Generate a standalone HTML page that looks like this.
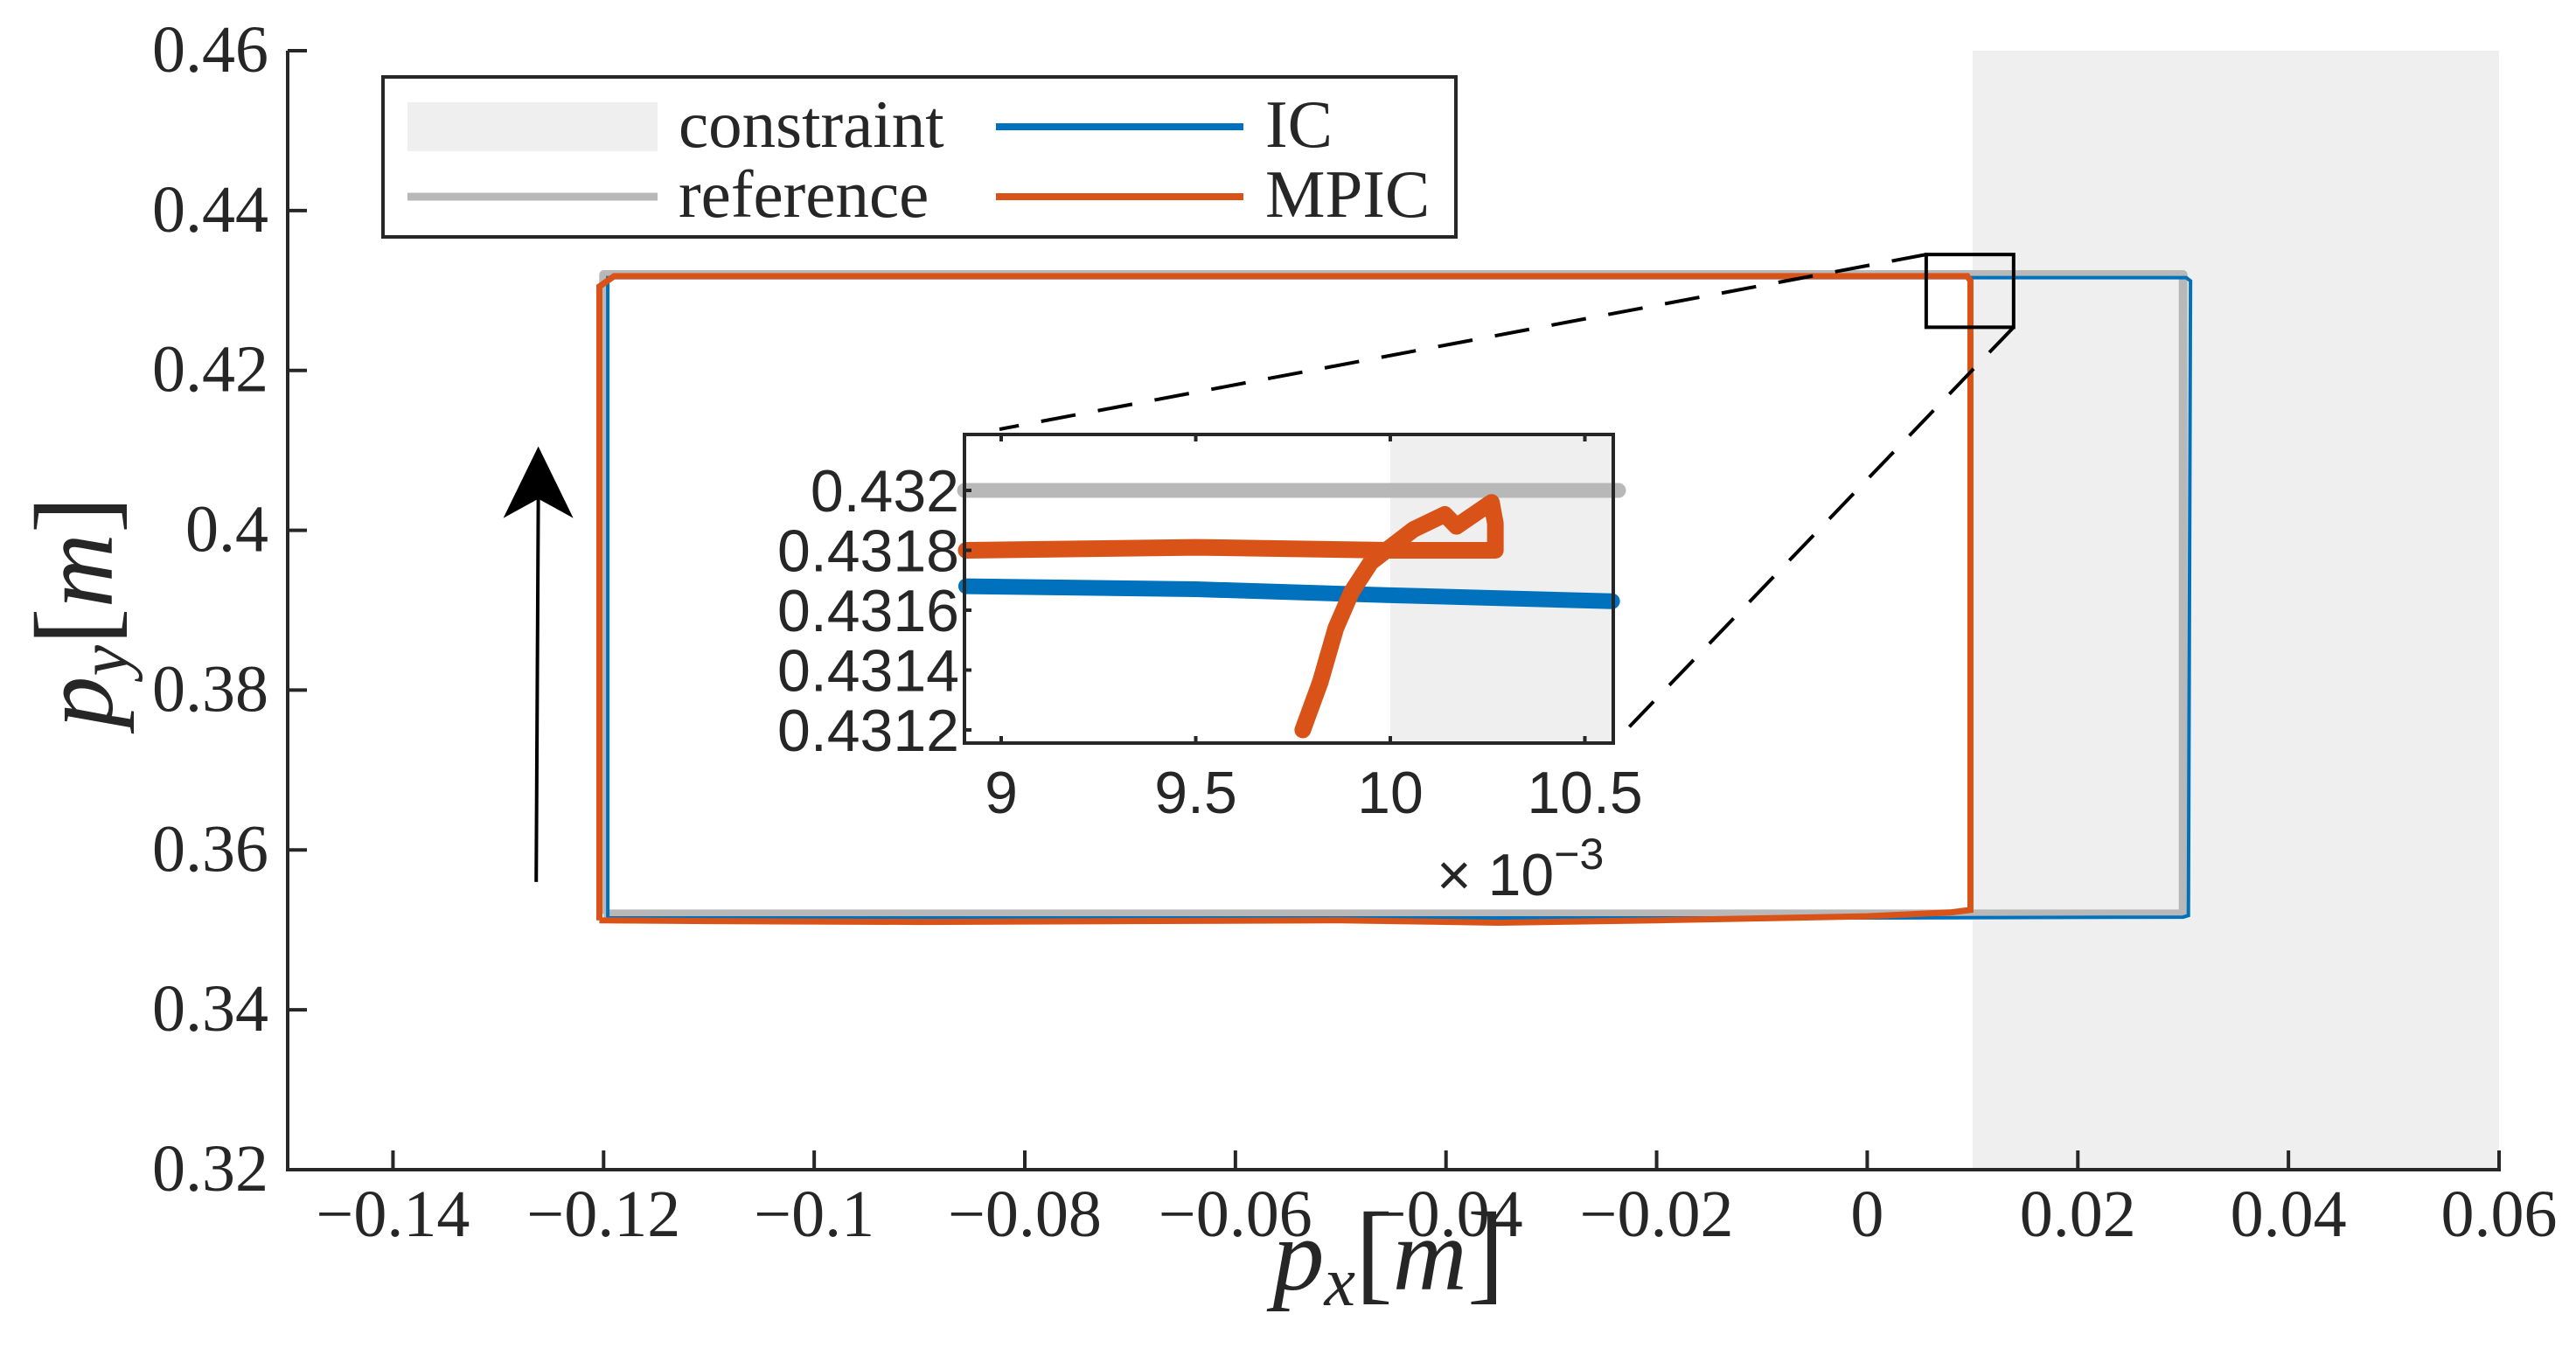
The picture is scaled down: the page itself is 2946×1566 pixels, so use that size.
<!DOCTYPE html>
<html><head><meta charset="utf-8"><style>
html,body{margin:0;padding:0;background:#fff}
svg{display:block}
text{font-family:"Liberation Serif",serif;fill:#262626}
.sans{font-family:"Liberation Sans",sans-serif}
</style></head><body>
<svg id="chart" width="2946" height="1566" viewBox="0 0 2946 1566" xmlns="http://www.w3.org/2000/svg">
<g id="main"></g>
<g id="inset"></g>
<g id="legend">
 <rect x="438" y="88" width="1227" height="183" fill="#fff" stroke="#262626" stroke-width="4"/>
 <rect x="466" y="117" width="286" height="56" fill="#efefef"/>
 <text x="776" y="168" font-size="77">constraint</text>
 <line x1="466" y1="225" x2="752" y2="225" stroke="#b8b8b8" stroke-width="9"/>
 <text x="776" y="248" font-size="77">reference</text>
 <line x1="1139" y1="145" x2="1422" y2="145" stroke="#0072bd" stroke-width="8"/>
 <text x="1447" y="168" font-size="77">IC</text>
 <line x1="1139" y1="225" x2="1422" y2="225" stroke="#d95319" stroke-width="8"/>
 <text x="1447" y="248" font-size="77">MPIC</text>
</g>
</svg>
<script>
// ---------- main plot data ----------
const xTicks = [-0.14,-0.12,-0.1,-0.08,-0.06,-0.04,-0.02,0,0.02,0.04,0.06];
const xTickLabels = ["\u22120.14","\u22120.12","\u22120.1","\u22120.08","\u22120.06","\u22120.04","\u22120.02","0","0.02","0.04","0.06"];
const yTicks = [0.32,0.34,0.36,0.38,0.4,0.42,0.44,0.46];
const yTickLabels = ["0.32","0.34","0.36","0.38","0.4","0.42","0.44","0.46"];
const constraintX = [0.01, 0.06];
const refX = [-0.12, -0.12, 0.03, 0.03, -0.12];
const refY = [0.352, 0.432, 0.432, 0.352, 0.352];
const icX = [-0.1196,-0.1196,-0.08,-0.04,0,0.02,0.0303,0.0307,0.0305,0.03,0.0,-0.04,-0.08,-0.1196];
const icY = [0.3515,0.4316,0.4316,0.4316,0.4316,0.4316,0.4316,0.4312,0.3518,0.3516,0.3515,0.3515,0.3515,0.3515];
const mpX = [-0.1204,-0.1204,-0.119,-0.08,-0.04,0,0.0095,0.0098,0.0098,0.008,0.0,-0.02,-0.035,-0.05,-0.07,-0.09,-0.11,-0.1204];
const mpY = [0.3512,0.4305,0.4318,0.4318,0.4318,0.4318,0.4318,0.4312,0.3525,0.3522,0.3517,0.3512,0.3509,0.3512,0.3511,0.3510,0.3511,0.3512];
const zoomBoxX = [0.0056, 0.0139];
const zoomBoxY = [0.4254, 0.4345];
const arrowX = [-0.1264, -0.1262];
const arrowY = [0.356, 0.4105];

// ---------- inset data ----------
const inXTicks = [9, 9.5, 10, 10.5];
const inXTickLabels = ["9","9.5","10","10.5"];
const inYTicks = [0.4312,0.4314,0.4316,0.4318,0.432];
const inYTickLabels = ["0.4312","0.4314","0.4316","0.4318","0.432"];
const inRefX = [8.9, 10.6];
const inRefY = [0.432, 0.432];
const inIcX = [8.91, 9.5, 10.0, 10.57];
const inIcY = [0.43168, 0.43167, 0.43165, 0.43163];
const inMpX = [8.91, 9.5, 10.0, 10.27, 10.27, 10.26, 10.17, 10.14, 10.06, 9.95, 9.90, 9.86, 9.82, 9.775];
const inMpY = [0.43180, 0.43181, 0.43180, 0.43180, 0.43189, 0.43196, 0.43188, 0.43192, 0.43187, 0.43176, 0.43166, 0.43154, 0.43136, 0.43120];

const NS = "http://www.w3.org/2000/svg";
function mk(parent, tag, attrs, txt){
  const el = document.createElementNS(NS, tag);
  for (const k in attrs) el.setAttribute(k, attrs[k]);
  if (txt !== undefined) el.textContent = txt;
  parent.appendChild(el);
  return el;
}
const L=329, R=2858, T=58, B=1338;
const xs = v => L + (v + 0.15) / 0.21 * (R - L);
const ys = v => B - (v - 0.32) / 0.14 * (B - T);
const main = document.getElementById('main');

let e = mk(main,'rect',{x:xs(constraintX[0]),y:T,width:xs(constraintX[1])-xs(constraintX[0]),height:B-T,fill:'#efefef'});



e = mk(main,'polyline',{points:refX.map((x,i)=>xs(x)+','+ys(refY[i])).join(' '),fill:'none',stroke:'#b8b8b8','stroke-width':10,'stroke-linejoin':'round'});


e = mk(main,'polyline',{points:icX.map((x,i)=>xs(x)+','+ys(icY[i])).join(' '),fill:'none',stroke:'#0072bd','stroke-width':4});


e = mk(main,'polyline',{points:mpX.map((x,i)=>xs(x)+','+ys(mpY[i])).join(' '),fill:'none',stroke:'#d95319','stroke-width':7});



e = mk(main,'path',{d:`M${L},${T} L${L},${B} L${R},${B} L${R},${B-22}`,fill:'none',stroke:'#262626','stroke-width':4});


xTicks.forEach((v,i)=>{
  const t = mk(main,'line',{x1:xs(v),x2:xs(v),y1:B,y2:B-22,stroke:'#262626','stroke-width':4});
  
  
  const lb = mk(main,'text',{x:xs(v),y:B+76,'font-size':76,'text-anchor':'middle'},xTickLabels[i]);
  
  
});
yTicks.forEach((v,i)=>{
  const t = mk(main,'line',{x1:L,x2:L+22,y1:ys(v),y2:ys(v),stroke:'#262626','stroke-width':4});
  
  
  const lb = mk(main,'text',{x:L-22,y:ys(v)+24,'font-size':76,'text-anchor':'end'},yTickLabels[i]);
  
  
});
e = mk(main,'text',{x:1588,y:1475,'font-size':118,'text-anchor':'middle','font-style':'italic'});
e.innerHTML = 'p<tspan font-size="80" dy="18">x</tspan><tspan font-style="normal" dy="-18" font-size="128">[</tspan>m<tspan font-style="normal" font-size="128">]</tspan>';


e = mk(main,'text',{x:0,y:0,'font-size':118,'text-anchor':'middle','font-style':'italic',transform:'translate(128,700) rotate(-90)'});
e.innerHTML = 'p<tspan font-size="80" dy="18">y</tspan><tspan font-style="normal" dy="-18" font-size="128">[</tspan>m<tspan font-style="normal" font-size="128">]</tspan>';



const ax0=xs(arrowX[0]), ay0=ys(arrowY[0]), ax1=xs(arrowX[1]), ay1=ys(arrowY[1]);
e = mk(main,'line',{x1:ax0,y1:ay0,x2:ax1,y2:ay1+60,stroke:'#000','stroke-width':4});


e = mk(main,'path',{d:`M${ax1},${ay1} L${ax1+40},${ay1+82} L${ax1},${ay1+60} L${ax1-40},${ay1+82} Z`,fill:'#000'});



const zx0=xs(zoomBoxX[0]), zx1=xs(zoomBoxX[1]), zy0=ys(zoomBoxY[1]), zy1=ys(zoomBoxY[0]);
e = mk(main,'rect',{x:zx0,y:zy0,width:zx1-zx0,height:zy1-zy0,fill:'none',stroke:'#000','stroke-width':4});



const IL=1103, IR=1845, IT=497, IB=850;
const ixs = v => 1145 + (v - 9) * 445;
const iys = v => 561 + (0.432 - v) / 0.0002 * 68.5;
const inset = document.getElementById('inset');
e = mk(main,'line',{x1:zx0,y1:zy0,x2:IL+40,y2:IT-6,stroke:'#000','stroke-width':4,'stroke-dasharray':'40 26'});


e = mk(main,'line',{x1:zx1,y1:zy1,x2:IR+12,y2:IB-12,stroke:'#000','stroke-width':4,'stroke-dasharray':'40 26'});



e = mk(inset,'rect',{x:IL,y:IT,width:IR-IL,height:IB-IT,fill:'#fff'});


e = mk(inset,'rect',{x:ixs(10),y:IT,width:IR-ixs(10),height:IB-IT,fill:'#efefef'});


e = mk(inset,'polyline',{points:inRefX.map((x,i)=>Math.min(Math.max(ixs(x),IL),IR+6)+','+iys(inRefY[i])).join(' '),fill:'none',stroke:'#b8b8b8','stroke-width':17,'stroke-linecap':'round'});


e = mk(inset,'polyline',{points:inIcX.map((x,i)=>ixs(x)+','+iys(inIcY[i])).join(' '),fill:'none',stroke:'#0072bd','stroke-width':18,'stroke-linecap':'round'});


e = mk(inset,'polyline',{points:inMpX.map((x,i)=>ixs(x)+','+iys(inMpY[i])).join(' '),fill:'none',stroke:'#d95319','stroke-width':19,'stroke-linecap':'round','stroke-linejoin':'round'});


e = mk(inset,'rect',{x:IL,y:IT,width:IR-IL,height:IB-IT,fill:'none',stroke:'#262626','stroke-width':4});


inXTicks.forEach((v,i)=>{
  let t = mk(inset,'line',{x1:ixs(v),x2:ixs(v),y1:IB,y2:IB-8,stroke:'#262626','stroke-width':4});
  
  
  t = mk(inset,'line',{x1:ixs(v),x2:ixs(v),y1:IT,y2:IT+8,stroke:'#262626','stroke-width':4});
  
  
  const lb = mk(inset,'text',{class:'sans',x:ixs(v),y:IB+80,'font-size':68,'text-anchor':'middle'},inXTickLabels[i]);
  
  
});
inYTicks.forEach((v,i)=>{
  const t = mk(inset,'line',{x1:IL,x2:IL+8,y1:iys(v),y2:iys(v),stroke:'#262626','stroke-width':4});
  
  
  const lb = mk(inset,'text',{class:'sans',x:IL-6,y:iys(v)+24,'font-size':68,'text-anchor':'end'},inYTickLabels[i]);
  
  
});
e = mk(inset,'text',{class:'sans',x:1643,y:1024,'font-size':68});
e.innerHTML = '\u00d7 10<tspan font-size="50" dy="-30">\u22123</tspan>';


</script>
</body></html>
